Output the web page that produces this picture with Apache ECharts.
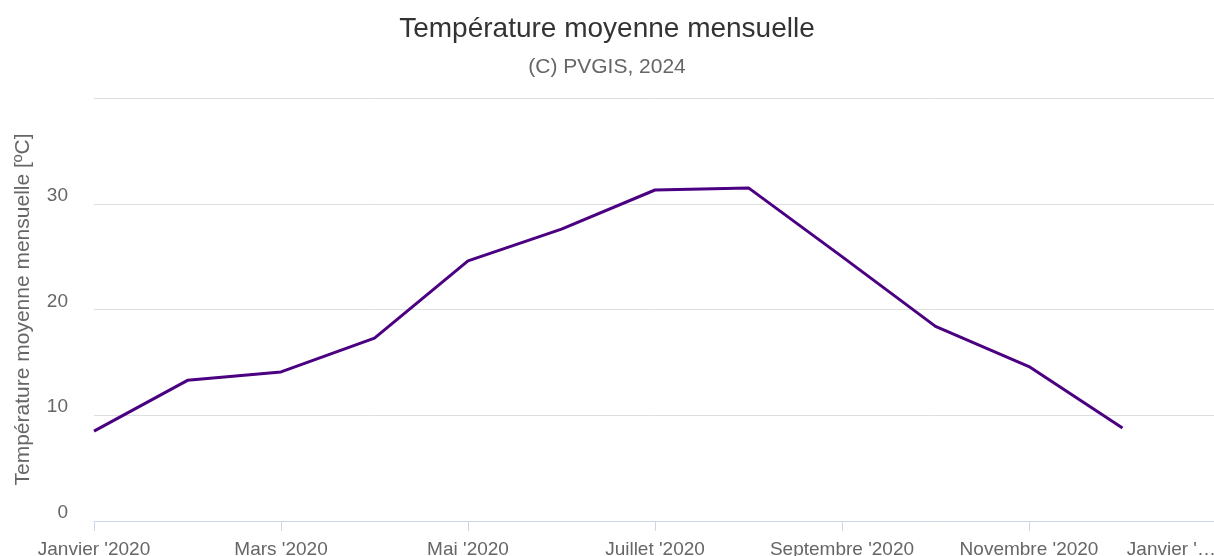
<!DOCTYPE html>
<html>
<head>
<meta charset="utf-8">
<title>Température moyenne mensuelle</title>
<script src="https://cdn.jsdelivr.net/npm/echarts@6/dist/echarts.min.js"></script>
<style>
  html, body { margin: 0; padding: 0; background: #fff; }
  #chart { width: 1214px; height: 556px; }
</style>
</head>
<body>
<div id="chart"></div>
<script>
// mois (un point par mois, plus janvier suivant pour fermer l'axe)
var months = ["Janvier '2020", "Février '2020", "Mars '2020", "Avril '2020", "Mai '2020", "Juin '2020",
  "Juillet '2020", "Août '2020", "Septembre '2020", "Octobre '2020", "Novembre '2020", "Décembre '2020",
  "Janvier '2021"];
// température moyenne mensuelle [ºC]
var temperature = [8.5, 13.3, 14.1, 17.3, 24.6, 27.6, 31.3, 31.5, 25.0, 18.4, 14.6, 8.8];
var yTicks = [0, 10, 20, 30, 40];

var font = '"Liberation Sans", Arial, sans-serif';
var myChart = echarts.init(document.getElementById('chart'));

var option = {
  animation: false,
  title: {
    text: 'Température moyenne mensuelle',
    subtext: '(C) PVGIS, 2024',
    left: 'center',
    top: 10,
    itemGap: 14,
    textStyle: { color: '#333333', fontSize: 28, fontWeight: 'normal', fontFamily: font },
    subtextStyle: { color: '#666666', fontSize: 21, fontFamily: font }
  },
  grid: {
    left: 94,
    top: 98,
    width: 1122,
    bottom: 35,
    containLabel: false,
    outerBoundsMode: 'none'
  },
  xAxis: {
    type: 'category',
    boundaryGap: false,
    data: months,
    axisLine: { lineStyle: { color: '#ccd6eb', width: 1 } },
    axisTick: { interval: 1, length: 10, lineStyle: { color: '#ccd6eb' } },
    splitLine: { show: false },
    axisLabel: {
      interval: 1,
      margin: 19,
      color: '#666666',
      fontSize: 19,
      fontFamily: font,
      alignMaxLabel: 'right',
      formatter: function (val, idx) {
        return idx === months.length - 1 ? "Janvier '\u2026" : val;
      }
    }
  },
  yAxis: {
    type: 'value',
    min: yTicks[0],
    max: yTicks[yTicks.length - 1],
    interval: 10,
    name: 'Température moyenne mensuelle [ºC]',
    nameLocation: 'middle',
    nameGap: 60,
    nameTextStyle: { color: '#666666', fontSize: 21, fontFamily: font },
    axisLine: { show: false },
    axisTick: { show: false },
    splitLine: { lineStyle: { color: '#dedede', width: 1 } },
    axisLabel: {
      margin: 26,
      color: '#666666',
      fontSize: 19,
      fontFamily: font,
      verticalAlign: 'bottom',
      lineHeight: 16,
      showMaxLabel: false
    }
  },
  series: [{
    name: 'Température',
    type: 'line',
    data: temperature,
    symbol: 'none',
    lineStyle: { color: '#4b0082', width: 3 },
    itemStyle: { color: '#4b0082' }
  }]
};

myChart.setOption(option);
window.addEventListener('resize', function () { myChart.resize(); });
</script>
</body>
</html>
